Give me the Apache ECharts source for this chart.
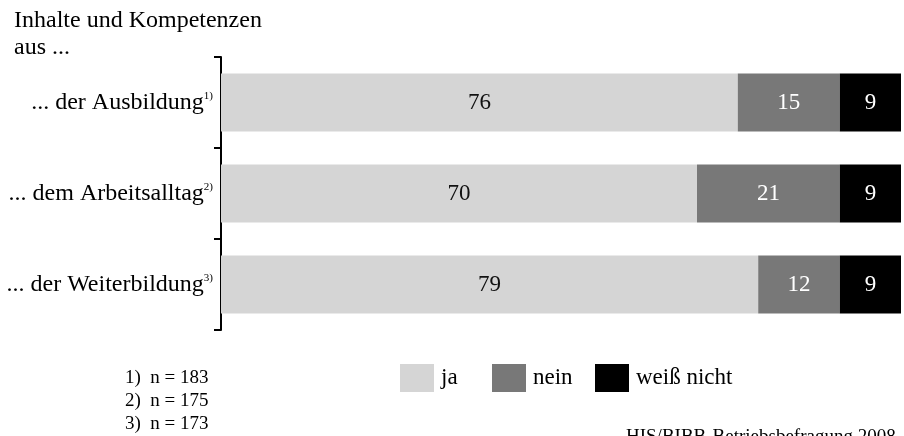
<!DOCTYPE html>
<html>
<head>
<meta charset="utf-8">
<script src="https://cdn.jsdelivr.net/npm/echarts@6/dist/echarts.min.js"></script>
<style>
  html, body { margin: 0; padding: 0; background: #fff; }
  #chart { width: 904px; height: 436px; }
</style>
</head>
<body>
<div id="chart"></div>
<script>
// categories (top to bottom) and their footnote marks
const categories = ["... der Ausbildung", "... dem Arbeitsalltag", "... der Weiterbildung"];
const footnotes = ["1)", "2)", "3)"];
const sampleNotes = ["1)  n = 183", "2)  n = 175", "3)  n = 173"];

// shares in percent
const ja = [76, 70, 79];
const nein = [15, 21, 12];
const weissNicht = [9, 9, 9];

const serif = "'Liberation Serif', 'DejaVu Serif', serif";

const chart = echarts.init(document.getElementById("chart"), null, { renderer: "canvas" });

function barSeries(name, data, color, labelColor) {
  return {
    name: name,
    type: "bar",
    stack: "total",
    data: data,
    barWidth: "64%",
    itemStyle: { color: color },
    label: {
      show: true,
      position: "inside",
      color: labelColor,
      fontFamily: serif,
      fontSize: 23,
    },
  };
}

// one legend per item so the spacing follows the picture
function legendAt(left, name) {
  return {
    left: left,
    top: 359,
    itemWidth: 34,
    itemHeight: 28,
    icon: "rect",
    textStyle: { fontFamily: serif, fontSize: 23, color: "#000", padding: [0, 0, 0, 2] },
    data: [name],
  };
}

const option = {
  animation: false,
  backgroundColor: "#fff",
  textStyle: { fontFamily: serif },
  grid: { left: 221, top: 57, width: 680, height: 273, containLabel: false },
  xAxis: {
    type: "value",
    min: 0,
    max: 100,
    show: false,
  },
  yAxis: {
    type: "category",
    inverse: true,
    data: categories,
    axisLine: { show: true, lineStyle: { color: "#000", width: 2 } },
    axisTick: { show: true, length: 7, lineStyle: { color: "#000", width: 2 } },
    axisLabel: {
      margin: 8,
      formatter: (value, i) => "{t|" + value + "}{s|" + footnotes[i] + "}",
      rich: {
        t: { fontFamily: serif, fontSize: 24, color: "#000" },
        s: { fontFamily: serif, fontSize: 11, color: "#000", verticalAlign: "top", padding: [0, 0, 12, 0] },
      },
    },
    splitLine: { show: false },
  },
  legend: [
    legendAt(395, "ja"),
    legendAt(487, "nein"),
    legendAt(590, "weiß nicht"),
  ],
  series: [
    barSeries("ja", ja, "#d5d5d5", "#111"),
    barSeries("nein", nein, "#787878", "#fff"),
    barSeries("weiß nicht", weissNicht, "#000000", "#fff"),
  ],
  graphic: [
    {
      type: "text",
      left: 14,
      top: 7,
      style: {
        text: "Inhalte und Kompetenzen\naus ...",
        font: "24px " + serif,
        fill: "#000",
        lineHeight: 27,
      },
    },
    {
      type: "text",
      left: 125,
      top: 367,
      style: {
        text: sampleNotes.join("\n"),
        font: "19px " + serif,
        fill: "#000",
        lineHeight: 23,
      },
    },
    {
      type: "text",
      left: 626,
      top: 428,
      style: {
        text: "HIS/BIBB-Betriebsbefragung 2008",
        font: "19px " + serif,
        fill: "#000",
      },
    },
  ],
};

chart.setOption(option);
</script>
</body>
</html>
